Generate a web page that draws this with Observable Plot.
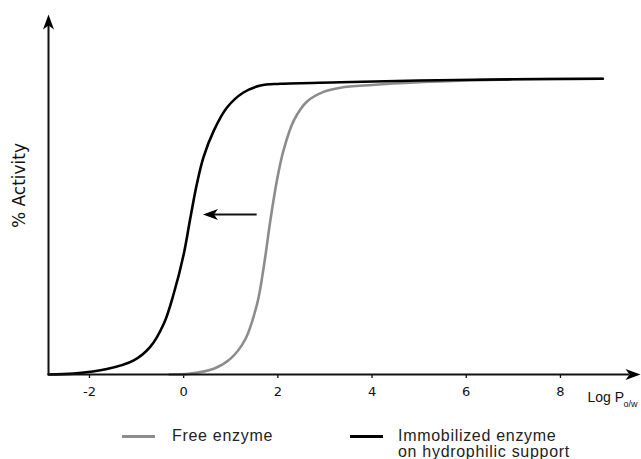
<!DOCTYPE html>
<html>
<head>
<meta charset="utf-8">
<script src="https://cdn.jsdelivr.net/npm/d3@7"></script>
<script src="https://cdn.jsdelivr.net/npm/@observablehq/plot@0.6"></script>
<style>
  body { margin: 0; background: #fff; }
  #wrap { width: 641px; }
  #legend { position: relative; width: 641px; height: 49px; font-family: "Liberation Sans", Arial, sans-serif; font-size: 16px; letter-spacing: 0.7px; color: #222; }
  #legend .sw { position: absolute; height: 3px; width: 33px; }
  #legend .lb { position: absolute; line-height: 15px; white-space: nowrap; }
</style>
</head>
<body>
<div id="wrap"></div>
<script>
// ---- data ----
const xTicks = [-2, 0, 2, 4, 6, 8];
const xDomain = [-2.87, 9.70];
const yDomain = [0, 120];

const freeX = [-0.3, 0.14, 0.64, 0.99, 1.30, 1.56, 1.70, 1.84, 1.98, 2.12, 2.34, 2.62, 2.97, 3.33, 4.0, 5.0, 6, 7, 8.9];
const freeY = [0, 0.3, 1.9, 5.2, 11.5, 23.6, 35.8, 51.3, 64.7, 74.7, 84.7, 91.0, 94.2, 95.6, 96.5, 97.4, 98.0, 98.4, 98.6];

const immobX = [-2.87, -2.33, -1.63, -1.06, -0.71, -0.42, -0.21, 0, 0.14, 0.28, 0.42, 0.64, 0.92, 1.27, 1.63, 2.05, 3.33, 5, 7, 8.9];
const immobY = [0, 0.3, 1.8, 4.7, 9.2, 17, 27, 40, 52, 63.5, 72.4, 81.3, 89, 94, 96.3, 96.9, 97.4, 98, 98.4, 98.6];

const shiftArrow = {x1: 1.56, x2: 0.41, y: 53.3};
const yLabelPos = {y: 63};
const seriesNames = ["Free enzyme", "Immobilized enzyme\non hydrophilic support"];
const seriesColors = ["#8c8c8c", "#000000"];

// ---- tables ----
const free = freeX.map((x, i) => ({x, y: freeY[i]}));
const immob = immobX.map((x, i) => ({x, y: immobY[i]}));

// custom filled arrowhead symbols (tip at origin)
function head(dir) {
  return {
    draw(ctx) {
      const L = 15, N = 11, W = 5.5;
      const pts = {
        up:    [[0,0],[W,L],[0,N],[-W,L]],
        right: [[0,0],[-L,W],[-N,0],[-L,-W]],
        left:  [[0,0],[L,W],[N,0],[L,-W]]
      }[dir];
      ctx.moveTo(pts[0][0], pts[0][1]);
      for (let i = 1; i < pts.length; ++i) ctx.lineTo(pts[i][0], pts[i][1]);
      ctx.closePath();
    }
  };
}

const width = 641, height = 410;
const mL = 48, mR = 1, mT = 14, mB = 36;
const pxPerX = (width - mL - mR) / (xDomain[1] - xDomain[0]);
const pxPerY = (height - mT - mB) / (yDomain[1] - yDomain[0]);

const chart = Plot.plot({
  width, height,
  marginLeft: mL, marginRight: mR, marginTop: mT, marginBottom: mB,
  style: {fontFamily: "DejaVu Sans", fontSize: "13px", background: "white", color: "#111"},
  x: {domain: xDomain},
  y: {domain: yDomain, axis: null},
  marks: [
    Plot.axisX({ticks: xTicks, tickSize: 4, tickPadding: 8, label: null, strokeWidth: 1.3, fontSize: 13, tickFormat: d => String(d)}),
    // curves
    Plot.line(free, {x: "x", y: "y", stroke: seriesColors[0], strokeWidth: 2.6, curve: "catmull-rom"}),
    Plot.line(immob, {x: "x", y: "y", stroke: seriesColors[1], strokeWidth: 2.6, curve: "catmull-rom"}),
    // axes lines with arrows
    Plot.ruleY([yDomain[0]], {x1: xDomain[0], x2: xDomain[1] - 11 / pxPerX, strokeWidth: 2}),
    Plot.ruleX([xDomain[0]], {y1: yDomain[0], y2: yDomain[1] - 11 / pxPerY, strokeWidth: 2}),
    Plot.dot([{x: xDomain[1], y: yDomain[0]}], {x: "x", y: "y", symbol: head("right"), fill: "black", stroke: null, r: 5}),
    Plot.dot([{x: xDomain[0], y: yDomain[1]}], {x: "x", y: "y", symbol: head("up"), fill: "black", stroke: null, r: 5}),
    // shift arrow
    Plot.ruleY([shiftArrow.y], {x1: shiftArrow.x1, x2: shiftArrow.x2 + 11 / pxPerX, strokeWidth: 2}),
    Plot.dot([{x: shiftArrow.x2, y: shiftArrow.y}], {x: "x", y: "y", symbol: head("left"), fill: "black", stroke: null, r: 5}),
    // axis labels
    Plot.text([{x: xDomain[0], y: yLabelPos.y}], {x: "x", y: "y", text: () => "% Activity", rotate: -90, dx: -29, fontSize: 17, fontFamily: "DejaVu Sans", fill: "#111"}),
    Plot.text(["Log P"], {frameAnchor: "bottom-right", textAnchor: "start", dx: -53, dy: 27, fontSize: 14, fontFamily: "Liberation Sans", fill: "#111"}),
    Plot.text(["o/w"], {frameAnchor: "bottom-right", textAnchor: "start", dx: -17, dy: 32, fontSize: 9, fontFamily: "Liberation Sans", fill: "#111"})
  ]
});

const wrap = document.getElementById("wrap");
wrap.appendChild(chart);

// legend below the svg
const legend = document.createElement("div");
legend.id = "legend";
const items = [
  {sw: 122, lb: 172},
  {sw: 350, lb: 398}
];
seriesNames.forEach((name, i) => {
  const sw = document.createElement("div");
  sw.className = "sw";
  sw.style.left = items[i].sw + "px";
  sw.style.top = "25px";
  sw.style.background = seriesColors[i];
  legend.appendChild(sw);
  const lines = name.split("\n");
  lines.forEach((t, j) => {
    const lb = document.createElement("div");
    lb.className = "lb";
    lb.style.left = items[i].lb + "px";
    lb.style.top = (18 + j * 16) + "px";
    lb.textContent = t;
    legend.appendChild(lb);
  });
});
wrap.appendChild(legend);
</script>
</body>
</html>
